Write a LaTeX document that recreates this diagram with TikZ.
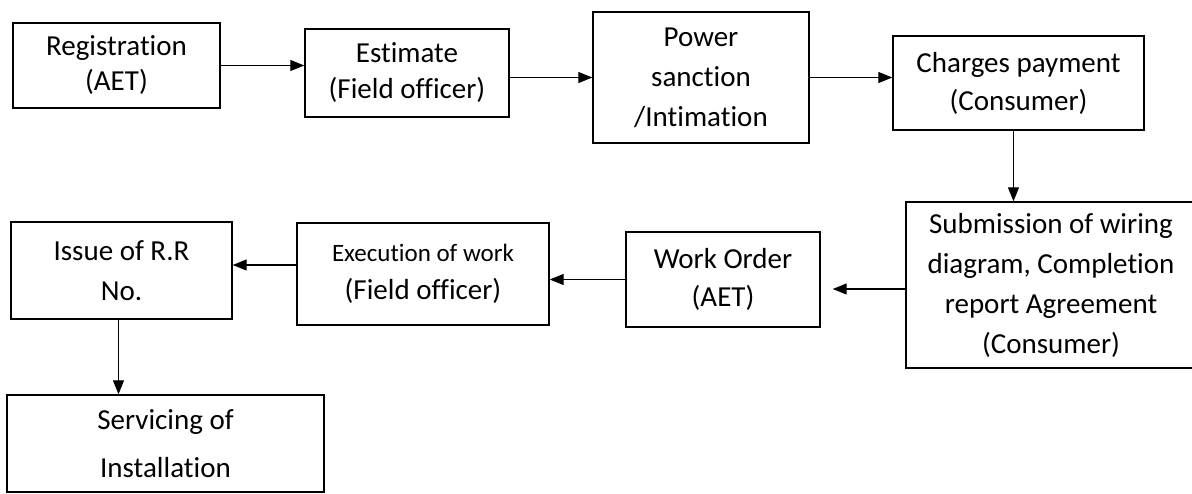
\documentclass[tikz,border=0pt]{standalone}
\usepackage{fontspec}
\setmainfont{Carlito}[Ligatures=NoCommon]
\usetikzlibrary{arrows.meta}
\begin{document}
\begin{tikzpicture}[x=1pt,y=-1pt,
  box/.style={draw=black,line width=1.4pt,rectangle,inner sep=0pt,align=center,anchor=center},
  conn/.style={line width=1.2pt,-{Triangle[length=14pt,width=11pt]}},
  fs/.style={font=\fontsize{29}{#1}\selectfont}]
\useasboundingbox (0,0) rectangle (1192,493);
\node[box,fs=35,minimum width=207pt,minimum height=85pt] (reg) at (116.5,65.5) {Registration\\(AET)};
\node[box,fs=36,minimum width=204pt,minimum height=88pt] (est) at (407,73) {Estimate\\(Field officer)};
\node[box,fs=40,minimum width=216pt,minimum height=131pt] (pow) at (701,77.5) {Power\\sanction\\/Intimation};
\node[box,fs=38,minimum width=251pt,minimum height=94pt] (chg) at (1018.5,83) {Charges payment\\(Consumer)};
\node[box,fs=40,minimum width=290pt,minimum height=166pt] (sub) at (1051,285) {Submission of wiring\\diagram, Completion\\report Agreement\\(Consumer)};
\node[box,fs=38,minimum width=194pt,minimum height=95pt] (wo) at (723,279.5) {Work Order\\(AET)};
\node[box,fs=38,minimum width=252pt,minimum height=102pt] (exe) at (423,274) {{\fontsize{25}{38}\selectfont Execution of work}\\(Field officer)};
\node[box,fs=40,minimum width=221pt,minimum height=97pt] (iss) at (121.5,270.5) {Issue of R.R\\No.};
\node[box,fs=48,minimum width=317pt,minimum height=97pt] (srv) at (165.5,443.5) {Servicing of\\Installation};
\draw[conn] (reg.east) -- (reg.east -| est.west);
\draw[conn] (pow.west -| est.east) -- (pow.west);
\draw[conn] (pow.east) -- (pow.east -| chg.west);
\draw[conn] ([xshift=-5pt]chg.south) -- ([xshift=-5pt]chg.south |- sub.north);
\draw[conn,shorten >=12pt] ([yshift=-4pt]sub.west) -- ([yshift=-4pt]sub.west -| wo.east);
\draw[conn] (wo.west) -- (wo.west -| exe.east);
\draw[conn] ([yshift=9pt]exe.west) -- ([yshift=9pt]exe.west -| iss.east);
\draw[conn] ([xshift=-3pt]iss.south) -- ([xshift=-3pt]iss.south |- srv.north);
\end{tikzpicture}
\end{document}
